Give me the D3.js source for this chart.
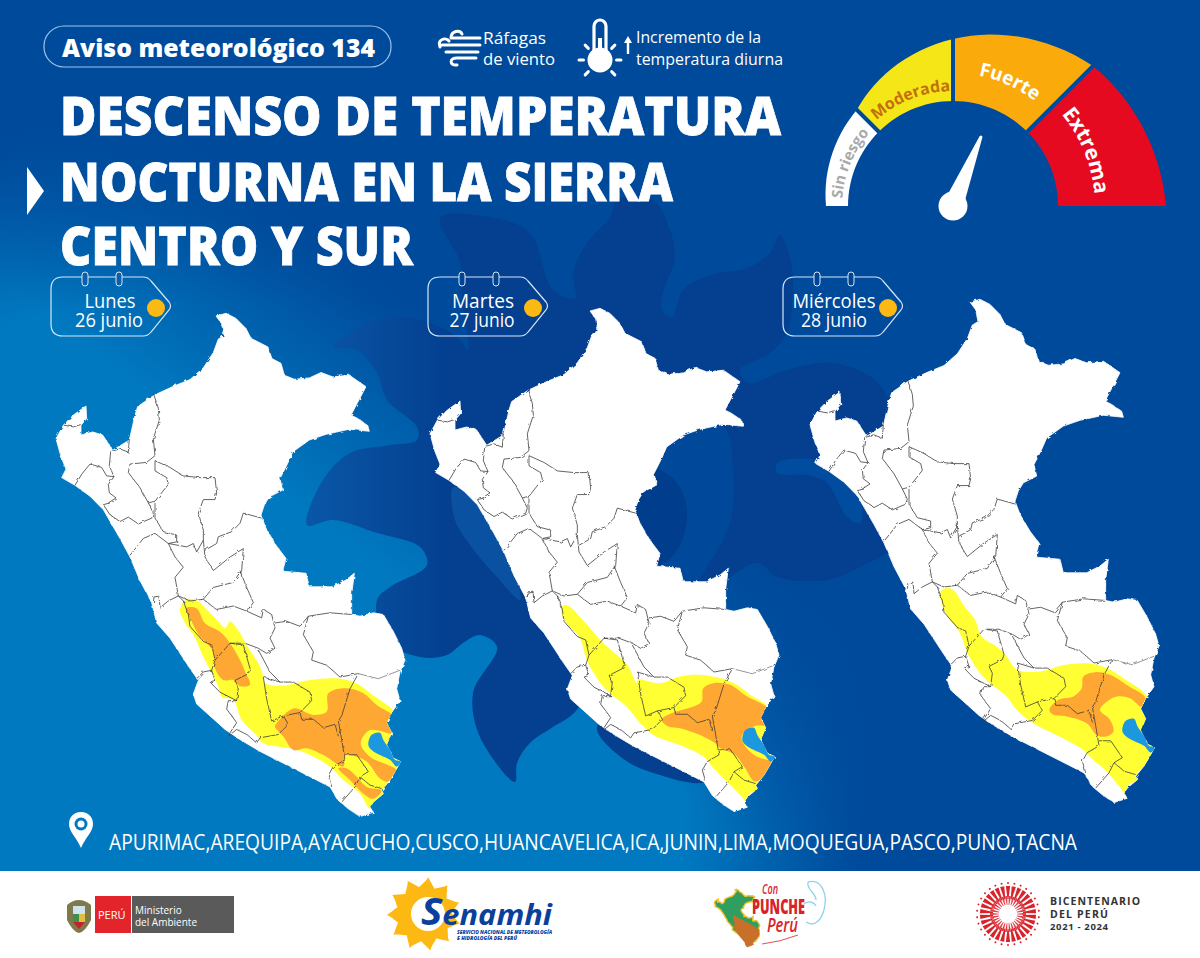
<!DOCTYPE html>
<html>
<head>
<meta charset="utf-8">
<script src="https://cdn.jsdelivr.net/npm/d3@7"></script>
<style>
html, body { margin: 0; padding: 0; background: #fff; }
svg { display: block; }
text { font-family: "Open Sans", sans-serif; }
</style>
</head>
<body>
<div id="chart"></div>
<script>
// texts
var titleLines = ["DESCENSO DE TEMPERATURA", "NOCTURNA EN LA SIERRA", "CENTRO Y SUR"];
var dayNames = ["Lunes", "Martes", "Miércoles"];
var dayDates = ["26 junio", "27 junio", "28 junio"];
var departments = ["APURIMAC", "AREQUIPA", "AYACUCHO", "CUSCO", "HUANCAVELICA", "ICA", "JUNIN", "LIMA", "MOQUEGUA", "PASCO", "PUNO", "TACNA"];

// gauge: angle in degrees from north, outer radius grows along the dial
var gaugeLevels = ["Sin riesgo", "Moderada", "Fuerte", "Extrema"];
var gaugeColors = ["#ffffff", "#f5e617", "#fbaa0c", "#e60a21"];
var gaugeTextColors = ["#a9a9a9", "#c2700c", "#ffffff", "#ffffff"];
var gaugeBreaks = [-90, -45, 0, 45, 90];
var gaugeOuter = [127, 136, 167, 198, 213];
var needleAngle = 22;

var peruOutline = [[528,77],[558,69],[588,84],[618,114],[633,143],[683,168],[696,203],[723,217],[733,252],[763,264],[808,260],[843,244],[878,257],[928,252],[978,286],[933,370],[953,380],[983,400],[988,418],[928,412],[858,427],[808,444],[758,479],[743,513],[720,558],[728,592],[688,612],[673,636],[663,666],[678,705],[708,755],[738,794],[728,832],[798,838],[808,878],[878,878],[918,858],[943,838],[935,900],[935,960],[960,965],[1000,955],[1030,960],[1060,1010],[1085,1060],[1095,1095],[1080,1130],[1070,1180],[1080,1215],[1055,1250],[1040,1280],[1055,1310],[1040,1345],[1060,1385],[1082,1395],[1065,1425],[1050,1450],[1025,1480],[1030,1490],[1000,1515],[990,1530],[1000,1545],[960,1558],[925,1535],[895,1510],[870,1470],[800,1435],[730,1400],[660,1365],[600,1330],[555,1300],[510,1260],[470,1225],[460,1195],[475,1155],[450,1120],[420,1075],[390,1030],[350,985],[335,925],[300,860],[270,790],[240,735],[190,650],[150,610],[105,578],[65,555],[78,530],[62,490],[48,440],[70,400],[100,370],[138,343],[140,380],[123,400],[123,429],[158,420],[188,429],[218,474],[268,444],[285,370],[293,345],[343,311],[400,285],[450,265],[490,230],[520,185],[535,145],[552,135],[545,100]];

var deptBorders = [
  [[72,400],[100,405],[122,398]],
  [[268,440],[265,480],[240,470],[212,478],[208,520],[222,552],[205,575],[208,600],[228,615],[205,630]],
  [[105,578],[125,545],[150,515],[185,525],[200,550],[222,552]],
  [[340,305],[355,350],[358,385],[340,440],[345,490],[320,510],[270,515],[265,540],[300,585],[325,630]],
  [[210,630],[190,635],[210,665],[240,685],[265,672],[295,692],[335,675],[340,660],[325,630]],
  [[345,505],[390,525],[430,550],[480,555],[525,555],[530,600],[525,620],[490,620],[475,660],[490,710],[490,740],[470,775],[460,750],[440,760],[385,750]],
  [[325,630],[345,625],[385,575],[380,555],[345,535],[345,505]],
  [[345,630],[345,675],[370,715],[410,725],[410,745],[385,750]],
  [[270,785],[310,735],[345,720],[385,750],[405,790],[430,820],[405,850],[415,905]],
  [[490,740],[495,790],[520,830],[570,790],[610,765],[605,830],[600,840]],
  [[665,675],[610,660],[600,690],[575,715],[535,730],[530,750],[495,770]],
  [[600,830],[620,880],[640,925],[620,950],[580,935],[530,945],[490,915]],
  [[415,905],[450,920],[490,915],[520,880],[580,865],[600,835]],
  [[360,940],[385,920],[415,905],[435,925]],
  [[340,925],[342,908],[357,906],[360,940]],
  [[620,950],[665,970],[670,945],[695,960],[705,1000],[690,1030],[705,1060],[680,1075],[655,1060],[615,1045],[570,1045]],
  [[705,985],[740,980],[780,995],[805,965]],
  [[935,960],[870,955],[805,965],[790,1020],[820,1070],[815,1095],[860,1110],[900,1145],[955,1135]],
  [[670,1145],[720,1160],[760,1160],[810,1190],[815,1215],[780,1250],[730,1260],[695,1275],[680,1210],[670,1145]],
  [[655,1065],[690,1130],[720,1160]],
  [[955,1135],[930,1180],[905,1260],[895,1275],[905,1330],[915,1390],[880,1410],[865,1435],[875,1470]],
  [[915,1375],[950,1375],[985,1425],[960,1440],[945,1470],[905,1515]],
  [[960,1440],[990,1465],[1025,1475]],
  [[730,1260],[745,1285],[715,1315],[660,1325],[650,1340],[620,1315],[590,1300],[565,1320]],
  [[780,1250],[785,1270],[820,1270],[850,1295],[885,1285],[895,1320]],
  [[570,1045],[525,1095],[515,1125],[525,1155],[510,1160],[540,1190],[590,1215],[565,1215],[560,1240],[590,1280],[570,1310]],
  [[570,1045],[610,1050],[630,1120],[625,1135],[585,1155],[595,1175],[590,1215]],
  [[515,1125],[490,1130],[470,1150]],
  [[430,920],[445,960],[450,995],[490,1040],[515,1050],[525,1095]]
];
var greyBorder = [[955,1135],[1015,1150],[1080,1125]];

var lakeTiticaca = [[985,1346],[995,1316],[1020,1310],[1030,1331],[1050,1361],[1065,1390],[1082,1395],[1070,1410],[1050,1390],[1020,1376],[995,1361]];

// warning areas per day
var yellowLunes = [[420,947],[440,915],[470,918],[500,945],[530,975],[555,1000],[570,981],[590,1000],[620,1050],[665,1124],[675,1163],[730,1170],[810,1154],[890,1149],[950,1164],[1000,1200],[1060,1247],[1060,1280],[1070,1310],[1060,1345],[1080,1390],[1080,1410],[1060,1450],[1040,1475],[1040,1490],[1010,1515],[990,1534],[960,1490],[910,1450],[870,1410],[800,1371],[750,1356],[670,1341],[650,1317],[605,1272],[580,1213],[545,1203],[535,1173],[510,1124],[490,1085],[460,1020],[435,985]];
var orangeLunesA = [[438,942],[470,942],[495,986],[540,1011],[570,1045],[600,1095],[615,1129],[630,1168],[600,1172],[580,1154],[550,1154],[525,1119],[520,1070],[505,1050],[480,1026],[455,981]];
var orangeLunesB = [[710,1282],[760,1238],[820,1257],[860,1247],[865,1193],[920,1178],[970,1193],[1010,1228],[1060,1262],[1050,1292],[1060,1312],[990,1302],[962,1341],[990,1381],[1070,1422],[1045,1454],[1020,1445],[980,1395],[930,1376],[915,1376],[910,1410],[850,1376],[800,1356],[760,1361],[730,1321],[705,1292]];
var orangeLunesC = [[895,1415],[920,1415],[950,1440],[980,1470],[1025,1480],[1000,1505],[970,1490],[930,1450]];

var yellowMartes = [[443,951],[463,949],[493,976],[528,1015],[563,1055],[608,1094],[643,1128],[668,1178],[673,1168],[738,1178],[798,1158],[858,1153],[918,1163],[968,1183],[1008,1212],[1060,1247],[1065,1296],[1075,1395],[1070,1429],[1035,1464],[1040,1488],[1003,1508],[1003,1538],[978,1508],[938,1469],[898,1429],[868,1395],[808,1365],[718,1331],[678,1296],[638,1247],[593,1212],[563,1183],[518,1109],[498,1045],[458,1000],[443,971]];
var orangeMartes = [[743,1286],[778,1265],[838,1247],[863,1232],[868,1193],[898,1178],[948,1183],[998,1217],[1060,1252],[1055,1276],[1070,1301],[1018,1306],[983,1336],[998,1370],[1028,1395],[1080,1414],[1060,1444],[1023,1469],[993,1429],[963,1390],[918,1370],[903,1355],[858,1331],[798,1311],[763,1306]];

var yellowMiercoles = [[438,939],[453,924],[478,929],[508,973],[543,1017],[563,1067],[608,1096],[638,1126],[668,1165],[738,1170],[808,1151],[878,1146],[938,1160],[988,1190],[1060,1244],[1065,1294],[1075,1412],[1060,1441],[1030,1471],[1035,1491],[1003,1506],[1003,1540],[968,1501],[938,1466],[898,1432],[868,1402],[808,1368],[718,1323],[668,1284],[638,1244],[588,1205],[558,1175],[518,1111],[498,1057],[458,1003],[443,968]];
var orangeMiercoles = [[766,1284],[793,1254],[838,1244],[863,1220],[868,1185],[903,1172],[948,1180],[998,1210],[1055,1249],[1043,1274],[1008,1249],[968,1244],[933,1264],[918,1284],[948,1313],[958,1348],[933,1363],[908,1358],[878,1323],[818,1303],[778,1298]];

var yellowAreas = [yellowLunes, yellowMartes, yellowMiercoles];
var orangeAreas = [[orangeLunesA, orangeLunesB, orangeLunesC], [orangeMartes], [orangeMiercoles]];

var width = 1200, height = 958;
var svg = d3.select("#chart").append("svg").attr("width", width).attr("height", height);
var defs = svg.append("defs");

// background
var bg = defs.append("radialGradient").attr("id", "bg")
    .attr("gradientUnits", "userSpaceOnUse")
    .attr("cx", 180).attr("cy", 800).attr("r", 720);
bg.append("stop").attr("offset", 0.7).attr("stop-color", "#0079c0");
bg.append("stop").attr("offset", 0.95).attr("stop-color", "#004a9b");
svg.append("rect").attr("width", width).attr("height", 871).attr("fill", "url(#bg)");
var over = defs.append("linearGradient").attr("id", "over")
    .attr("gradientUnits", "userSpaceOnUse")
    .attr("x1", 0).attr("y1", 500).attr("x2", 300).attr("y2", 100);
over.append("stop").attr("offset", 0.35).attr("stop-color", "#004a9b").attr("stop-opacity", 0);
over.append("stop").attr("offset", 0.8).attr("stop-color", "#004a9b").attr("stop-opacity", 1);
svg.append("rect").attr("width", width).attr("height", 871).attr("fill", "url(#over)");

// big sun silhouette behind the maps
var petalFill = defs.append("linearGradient").attr("id", "petalFill")
    .attr("gradientUnits", "userSpaceOnUse")
    .attr("x1", 300).attr("y1", 0).attr("x2", 450).attr("y2", 0);
petalFill.append("stop").attr("offset", 0).attr("stop-color", "#0a58a8");
petalFill.append("stop").attr("offset", 1).attr("stop-color", "#043f90");
var blob = d3.line().curve(d3.curveCatmullRomClosed.alpha(0.5));
var sunShape = [[333,347],[367,323],[400,317],[430,323],[457,337],[468,350],[462,300],[460,262],[440,218],[490,217],[530,233],[553,290],[575,298],[573,273],[587,243],[610,217],[617,200],[653,200],[670,230],[675,257],[663,293],[662,310],[672,317],[683,290],[710,275],[747,268],[770,253],[780,235],[790,257],[793,280],[787,333],[770,353],[740,370],[748,383],[787,370],[833,363],[880,385],[900,450],[900,540],[860,567],[827,580],[777,577],[757,563],[700,600],[620,640],[575,712],[553,727],[530,743],[517,763],[515,782],[480,737],[473,693],[497,647],[480,635],[463,643],[447,655],[420,657],[385,640],[377,600],[390,587],[427,565],[420,547],[377,533],[333,520],[307,525],[323,480],[350,453],[390,445],[417,440],[417,427],[387,400],[377,373],[357,350]];
svg.append("path").attr("d", blob(sunShape)).attr("fill", "url(#petalFill)");
// lighter hollow on the east side of the second map, with its dark lens
svg.append("path").attr("d", blob([[723,427],[733,467],[730,523],[707,567],[680,600],[620,600],[620,420]])).attr("fill", "#00489a");
svg.append("path").attr("d", blob([[653,467],[677,483],[687,510],[680,545],[660,565],[620,560],[620,470]])).attr("fill", "#003d8c");
// lighter stripes between petals
svg.append("path").attr("d", blob([[777,463],[820,460],[843,473],[860,493],[860,523],[847,517],[827,483],[807,475],[777,473]])).attr("fill", "#004c9e");
svg.append("path").attr("d", blob([[453,487],[470,495],[510,560],[520,600],[495,575],[470,545],[455,520]])).attr("fill", "#0a51a2");
// band under the southern coast of the second map
svg.append("path").attr("d", blob([[597,727],[625,760],[660,775],[700,783],[720,775],[700,740],[640,700]])).attr("fill", "#043f90");

// header pill
svg.append("rect").attr("x", 44).attr("y", 26).attr("width", 347).attr("height", 41).attr("rx", 20)
    .attr("fill", "none").attr("stroke", "#9fc4e6").attr("stroke-width", 1.2);
svg.append("text").attr("x", 62).attr("y", 57).attr("fill", "#fff").attr("font-size", 25).attr("font-weight", 900)
    .attr("font-family", "Lato").attr("textLength", 313).attr("lengthAdjust", "spacingAndGlyphs").text("Aviso meteorológico 134");

// wind icon
var wind = svg.append("g").attr("fill", "none").attr("stroke", "#fff").attr("stroke-width", 3).attr("stroke-linecap", "round");
wind.append("path").attr("d", "M451,38 H480 M451,38 C451,31 460,29 462,34");
wind.append("path").attr("d", "M440,47 C437,39 446,37 449,41 M442,45 H480");
wind.append("path").attr("d", "M446,52 H478");
wind.append("path").attr("d", "M458,58 H476 M458,58 C449,57 449,66 457,65");
svg.selectAll(".windText").data([["Ráfagas", 44, 63], ["de viento", 65, 72]]).enter().append("text")
    .attr("x", 483).attr("y", function(d) { return d[1]; })
    .attr("textLength", function(d) { return d[2]; }).attr("lengthAdjust", "spacingAndGlyphs")
    .attr("fill", "#fff").attr("font-size", 17).text(function(d) { return d[0]; });

// thermometer icon
var thermo = svg.append("g");
thermo.append("rect").attr("x", 594).attr("y", 20).attr("width", 12).attr("height", 38).attr("rx", 6)
    .attr("fill", "none").attr("stroke", "#fff").attr("stroke-width", 3.2);
thermo.append("rect").attr("x", 598).attr("y", 38).attr("width", 4).attr("height", 20).attr("fill", "#fff");
thermo.append("circle").attr("cx", 600).attr("cy", 60).attr("r", 12.5).attr("fill", "#fff");
[-135, -90, -45, 45, 90, 135].forEach(function(a) {
    var r = a * Math.PI / 180;
    thermo.append("line")
        .attr("x1", 600 + 16.5 * Math.sin(r)).attr("y1", 60 - 16.5 * Math.cos(r))
        .attr("x2", 600 + 21 * Math.sin(r)).attr("y2", 60 - 21 * Math.cos(r))
        .attr("stroke", "#fff").attr("stroke-width", 3).attr("stroke-linecap", "round");
});
thermo.append("path").attr("d", "M628,54 V42").attr("stroke", "#fff").attr("stroke-width", 2.4);
thermo.append("path").attr("d", "M624,43 L628,36 L632,43 Z").attr("fill", "#fff");
svg.selectAll(".tempText").data([["Incremento de la", 43, 125], ["temperatura diurna", 65, 147]]).enter().append("text")
    .attr("x", 636).attr("y", function(d) { return d[1]; })
    .attr("textLength", function(d) { return d[2]; }).attr("lengthAdjust", "spacingAndGlyphs")
    .attr("fill", "#fff").attr("font-size", 17).text(function(d) { return d[0]; });

// title
var titleBase = [135, 201, 265], titleWide = [721, 613, 353];
svg.selectAll(".title").data(titleLines).enter().append("text")
    .attr("x", 60).attr("y", function(d, i) { return titleBase[i]; })
    .attr("textLength", function(d, i) { return titleWide[i]; }).attr("lengthAdjust", "spacingAndGlyphs")
    .attr("fill", "#fff").attr("stroke", "#fff").attr("stroke-width", 0.8)
    .attr("font-family", "Lato").attr("font-size", 53).attr("font-weight", 900).text(function(d) { return d; });
svg.append("path").attr("d", "M27,167 L44,191 L27,215 Z").attr("fill", "#fff");

// gauge
var gauge = svg.append("g").attr("transform", "translate(953,206)");
var toRad = Math.PI / 180;
var outerScale = d3.scaleLinear().domain(gaugeBreaks).range(gaugeOuter);
gaugeLevels.forEach(function(level, i) {
    var angles = d3.range(gaugeBreaks[i], gaugeBreaks[i + 1] + 0.01, 3);
    var area = d3.areaRadial()
        .angle(function(a) { return a * toRad; })
        .innerRadius(105)
        .outerRadius(function(a) { return outerScale(a); });
    gauge.append("path").attr("d", area(angles) + "Z").attr("fill", gaugeColors[i]);
});
// gaps between the levels
gaugeBreaks.slice(1, 4).forEach(function(a) {
    gauge.append("path").attr("d", d3.lineRadial()([[a * toRad, 100], [a * toRad, 225]]))
        .attr("stroke", "#004a9b").attr("stroke-width", 4);
});
var labelMid = [-67.5, -21.6, 24.5, 67.5], labelRadius = [111, 115, 133, 142], labelSize = [15, 16, 19, 21];
gaugeLevels.forEach(function(level, i) {
    var r = labelRadius[i];
    var arcPts = d3.range(labelMid[i] - 44, labelMid[i] + 44.01, 2).map(function(a) {
        return [a * toRad, r];
    });
    gauge.append("path").attr("id", "arc" + i).attr("fill", "none").attr("d", d3.lineRadial()(arcPts));
    gauge.append("text").attr("fill", gaugeTextColors[i]).attr("font-size", labelSize[i]).attr("font-weight", 700)
        .attr("text-anchor", "middle")
        .append("textPath").attr("href", "#arc" + i).attr("startOffset", "50%").text(level);
});
// needle
var needle = gauge.append("g").attr("transform", "rotate(" + needleAngle + ")");
needle.append("path").attr("d", "M-9,-10 L-1.5,-75 Q0,-77 1.5,-75 L9,-10 Z").attr("fill", "#fff");
gauge.append("circle").attr("r", 14.5).attr("fill", "#fff");

// rough edge for coast and borders
var rough = defs.append("filter").attr("id", "rough").attr("x", "-5%").attr("y", "-5%").attr("width", "110%").attr("height", "110%");
rough.append("feTurbulence").attr("type", "fractalNoise").attr("baseFrequency", 0.22).attr("numOctaves", 2).attr("seed", 4);
rough.append("feDisplacementMap").attr("in", "SourceGraphic").attr("scale", 3.2);

// three maps, same outline shifted
var mapShiftX = [0, 374, 754], mapShiftY = [0, -5, -14];
var tagX = [51, 428, 783];
var nameX = [110, 483, 834], dateX = [109, 482, 834];
var nameW = [51, 62, 83], dateW = [68, 65, 66];

dayNames.forEach(function(name, i) {
    var x = d3.scaleLinear().domain([0, 1140]).range([40 + mapShiftX[i], 420 + mapShiftX[i]]);
    var y = d3.scaleLinear().domain([0, 1568]).range([290 + mapShiftY[i], 820 + mapShiftY[i]]);
    var outline = d3.line().x(function(d) { return x(d[0]); }).y(function(d) { return y(d[1]); });
    var smooth = d3.line().x(function(d) { return x(d[0]); }).y(function(d) { return y(d[1]); })
        .curve(d3.curveCatmullRomClosed.alpha(0.5));
    var g = svg.append("g");

    g.append("path").attr("d", outline(peruOutline) + "Z").attr("fill", "#fff")
        .attr("stroke", "#fff").attr("stroke-width", 0.8).attr("stroke-linejoin", "round")
        .attr("filter", "url(#rough)");

    defs.append("clipPath").attr("id", "peru" + i).append("path").attr("d", outline(peruOutline) + "Z");
    var areas = g.append("g").attr("clip-path", "url(#peru" + i + ")");
    areas.append("path").attr("d", smooth(yellowAreas[i])).attr("fill", "#ffff33");
    orangeAreas[i].forEach(function(a) {
        areas.append("path").attr("d", smooth(a)).attr("fill", "#ffa733");
    });
    g.append("path").attr("d", smooth(lakeTiticaca)).attr("fill", "#1b98e0");

    var lines = g.append("g").attr("filter", "url(#rough)");
    lines.selectAll(".border").data(deptBorders).enter().append("path")
        .attr("d", function(d) { return outline(d); })
        .attr("fill", "none").attr("stroke", "#3c3c3c").attr("stroke-width", 0.8);
    lines.append("path").attr("d", outline(greyBorder)).attr("fill", "none").attr("stroke", "#8a8a8a").attr("stroke-width", 0.9);

    // date tag
    var tx = tagX[i];
    var tag = svg.append("g");
    tag.append("path")
        .attr("d", "M" + (tx + 12) + ",277 H" + (tx + 92) + " Q" + (tx + 97) + ",277 " + (tx + 100) + ",281 L" + (tx + 118) + ",302 Q" + (tx + 121) + ",306 " + (tx + 118) + ",310 L" + (tx + 100) + ",332 Q" + (tx + 97) + ",336 " + (tx + 92) + ",336 H" + (tx + 12) +
            " Q" + tx + ",336 " + tx + ",324 V289 Q" + tx + ",277 " + (tx + 12) + ",277 Z")
        .attr("fill", "none").attr("stroke", "#d5e6f5").attr("stroke-width", 1.2);
    [34, 68].forEach(function(ox) {
        tag.append("rect").attr("x", tx + ox - 3).attr("y", 272).attr("width", 6).attr("height", 14).attr("rx", 3)
            .attr("fill", i === 0 ? "#0c5fab" : "#004493").attr("stroke", "#d5e6f5").attr("stroke-width", 1);
    });
    tag.append("circle").attr("cx", tx + 105).attr("cy", 308).attr("r", 9).attr("fill", "#fdb913");
    tag.append("text").attr("x", nameX[i]).attr("y", 308).attr("text-anchor", "middle").attr("fill", "#fff").attr("font-size", 20)
        .attr("textLength", nameW[i]).attr("lengthAdjust", "spacingAndGlyphs").text(name);
    tag.append("text").attr("x", dateX[i]).attr("y", 327).attr("text-anchor", "middle").attr("fill", "#fff").attr("font-size", 20)
        .attr("textLength", dateW[i]).attr("lengthAdjust", "spacingAndGlyphs").text(dayDates[i]);
});

// location line
svg.append("path").attr("d", "M81,812 C73,812 69,818 69,824 C69,832 77,838 81,848 C85,838 93,832 93,824 C93,818 89,812 81,812 Z")
    .attr("fill", "#fff");
svg.append("circle").attr("cx", 81).attr("cy", 824).attr("r", 6.5).attr("fill", "#0079c0");
svg.append("circle").attr("cx", 81).attr("cy", 824).attr("r", 3.5).attr("fill", "#fff");
svg.append("text").attr("x", 109).attr("y", 850).attr("fill", "#fff").attr("font-size", 21)
    .attr("textLength", 968).attr("lengthAdjust", "spacingAndGlyphs").text(departments.join(","));

// footer
svg.append("rect").attr("y", 871).attr("width", width).attr("height", 87).attr("fill", "#fff");

// Ministerio logo
svg.append("path").attr("d", "M67,905 Q79,895 91,905 L91,920 Q85,932 79,933 Q73,932 67,920 Z").attr("fill", "#7f7a4e");
svg.append("rect").attr("x", 73).attr("y", 906).attr("width", 12).attr("height", 8).attr("fill", "#cfe3ee");
svg.append("rect").attr("x", 73).attr("y", 914).attr("width", 6).attr("height", 8).attr("fill", "#3f8f4a");
svg.append("rect").attr("x", 79).attr("y", 914).attr("width", 6).attr("height", 8).attr("fill", "#e0c040");
svg.append("path").attr("d", "M73,922 H85 L79,929 Z").attr("fill", "#c8202a");
svg.append("rect").attr("x", 95).attr("y", 896).attr("width", 36).attr("height", 37).attr("fill", "#e3252b");
svg.append("rect").attr("x", 132).attr("y", 896).attr("width", 102).attr("height", 37).attr("fill", "#5a5a5a");
svg.append("text").attr("x", 98).attr("y", 919).attr("fill", "#fff").attr("font-size", 11).text("PERÚ");
svg.append("text").attr("x", 135).attr("y", 914).attr("fill", "#fff").attr("font-size", 10).text("Ministerio");
svg.append("text").attr("x", 135).attr("y", 926).attr("fill", "#fff").attr("font-size", 10).text("del Ambiente");

// Senamhi logo
var sun = svg.append("g").attr("transform", "translate(424,914)");
d3.range(11).forEach(function(i) {
    sun.append("path").attr("d", "M-10,-19 C-9,-28 -2,-30 1,-37 C5,-30 10,-26 10,-19 Z")
        .attr("transform", "rotate(" + (i * 360 / 11 + 5) + ")").attr("fill", "#fdb913");
});
sun.append("circle").attr("r", 23).attr("fill", "#fdb913");
svg.append("circle").attr("cx", 428).attr("cy", 914).attr("r", 17).attr("fill", "#fff");
var sen = svg.append("text").attr("x", 421).attr("y", 925).attr("fill", "#0a3f9c").attr("font-weight", 700)
    .attr("font-style", "italic").attr("font-family", "Liberation Sans")
    .attr("textLength", 131).attr("lengthAdjust", "spacingAndGlyphs");
sen.append("tspan").attr("font-size", 38).text("S");
sen.append("tspan").attr("font-size", 29).text("enamhi");
svg.append("text").attr("x", 457).attr("y", 934).attr("fill", "#0a3f9c").attr("font-size", 4.5).attr("font-weight", 800)
    .attr("font-style", "italic").attr("textLength", 95).attr("lengthAdjust", "spacingAndGlyphs").text("SERVICIO NACIONAL DE METEOROLOGÍA");
svg.append("text").attr("x", 457).attr("y", 940).attr("fill", "#0a3f9c").attr("font-size", 4.5).attr("font-weight", 800)
    .attr("font-style", "italic").attr("textLength", 60).attr("lengthAdjust", "spacingAndGlyphs").text("E HIDROLOGÍA DEL PERÚ");

// Con Punche Peru logo: same outline in small
var px = d3.scaleLinear().domain([40, 1100]).range([714, 760]);
var py = d3.scaleLinear().domain([60, 1560]).range([889, 942]);
var smallPeru = d3.line().x(function(d) { return px(d[0]); }).y(function(d) { return py(d[1]); })(peruOutline) + "Z";
defs.append("clipPath").attr("id", "peruSmall").append("path").attr("d", smallPeru);
svg.append("path").attr("d", smallPeru).attr("fill", "#2f9e5f").attr("stroke", "#f2c230").attr("stroke-width", 1.4);
svg.append("rect").attr("x", 710).attr("y", 920).attr("width", 60).attr("height", 25).attr("transform", "rotate(28 740 930)")
    .attr("fill", "#c8702a").attr("clip-path", "url(#peruSmall)");
svg.append("path").attr("d", "M808,882 C822,878 828,895 824,910 C820,924 812,926 806,922 M808,882 C806,890 816,892 816,900 M804,904 C808,900 814,902 816,906")
    .attr("fill", "none").attr("stroke", "#8fd3ea").attr("stroke-width", 1.3);
svg.append("text").attr("x", 762).attr("y", 894).attr("fill", "#d8232a").attr("font-size", 14).attr("font-weight", 600)
    .attr("font-style", "italic").attr("textLength", 16).attr("lengthAdjust", "spacingAndGlyphs").text("Con");
svg.append("text").attr("x", 752).attr("y", 914).attr("fill", "#d8232a").attr("font-size", 21).attr("font-weight", 800)
    .attr("textLength", 53).attr("lengthAdjust", "spacingAndGlyphs").text("PUNCHE");
svg.append("text").attr("x", 767).attr("y", 932).attr("fill", "#d8232a").attr("font-size", 19).attr("font-weight", 600)
    .attr("font-style", "italic").attr("textLength", 31).attr("lengthAdjust", "spacingAndGlyphs").text("Perú");
svg.append("path").attr("d", "M762,944 Q780,942 798,935").attr("fill", "none").attr("stroke", "#d8232a").attr("stroke-width", 0.8);

// Bicentenario logo
var bic = svg.append("g").attr("transform", "translate(1008,914)");
d3.range(30).forEach(function(i) {
    bic.append("path").attr("d", "M-2.1,-28 L2.1,-28 L0.5,-15 L-0.5,-15 Z")
        .attr("transform", "rotate(" + (i * 12) + ")").attr("fill", "#d8232a");
    bic.append("circle").attr("cx", 0).attr("cy", -31).attr("r", 1).attr("transform", "rotate(" + (i * 12) + ")").attr("fill", "#d8232a");
    bic.append("path").attr("d", "M-1.2,-18 L1.2,-18 L0.3,-9 L-0.3,-9 Z")
        .attr("transform", "rotate(" + (i * 12 + 6) + ")").attr("fill", "#e0404a");
});
svg.selectAll(".bic").data([["BICENTENARIO", 905, 90, 10.5], ["DEL PERÚ", 918, 58, 10.5], ["2021 - 2024", 930, 58, 9.5]]).enter().append("text")
    .attr("x", 1050).attr("y", function(d) { return d[1]; })
    .attr("textLength", function(d) { return d[2]; }).attr("lengthAdjust", "spacing")
    .attr("fill", "#333").attr("font-size", function(d) { return d[3]; }).attr("font-weight", 700).text(function(d) { return d[0]; });
</script>
</body>
</html>
